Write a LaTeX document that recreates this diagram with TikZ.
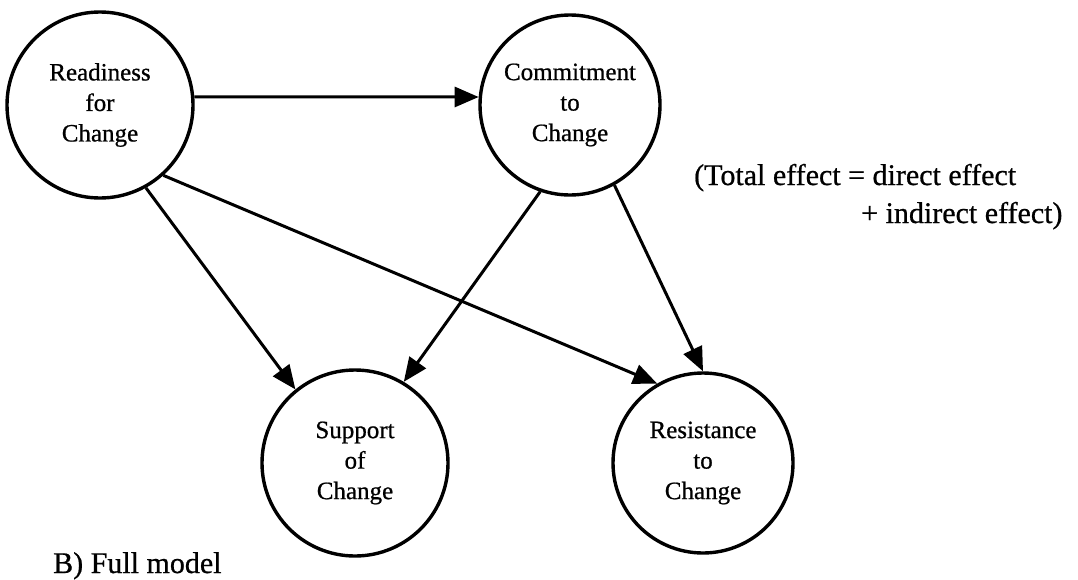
\documentclass[tikz,border=0pt]{standalone}
\usepackage{fontspec}
\setmainfont{Liberation Serif}
\newfontfamily\heavyserif{Liberation Serif}[FakeBold=0.7]
\usetikzlibrary{arrows.meta}
\begin{document}
\begin{tikzpicture}[x=1pt,y=-1pt,
  construct/.style={circle,draw,line width=3.4pt,inner sep=0pt,
    minimum size=#1,align=center,
    font=\heavyserif\fontsize{25}{30.5}\selectfont},
  path/.style={line width=3pt,-{Triangle[length=24pt,width=20pt]}},
  note/.style={inner sep=0pt,font=\heavyserif\fontsize{30}{36}\selectfont}]
\useasboundingbox (0,0) rectangle (1078,579);

% latent constructs
\node[construct=186pt] (R) at (100,105) {Readiness\\for\\Change};
\node[construct=180pt] (C) at (570,105) {Commitment\\to\\Change};
\node[construct=186pt] (S) at (355,463) {Support\\of\\Change};
\node[construct=180pt] (T) at (703,463) {Resistance\\to\\Change};

% structural paths
\draw[path] (R.5)   -- (C.175);
\draw[path] (R.-61) -- (S.129);
\draw[path] (R.-48) -- (T.120);
\draw[path] (C.-109) -- (S.59);
\draw[path] (C.-61) -- (T.90);

% annotations
\node[note,anchor=base west] (n1) at (694,185) {(Total effect = direct effect};
\node[note,anchor=base west] (n2) at (861,223) {+ indirect effect)};
\node[note,anchor=base west] (cap) at (53,573) {B) Full model};
\end{tikzpicture}
\end{document}
